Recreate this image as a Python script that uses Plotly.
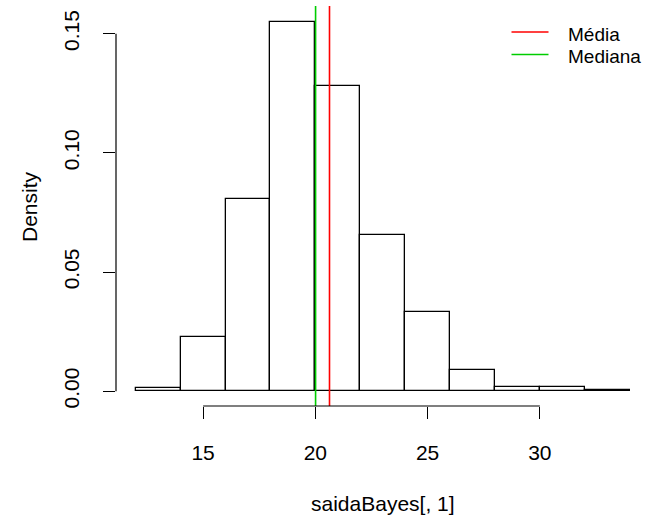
import plotly.graph_objects as go

# ---- data ----
bin_left = [12, 14, 16, 18, 20, 22, 24, 26, 28, 30, 32]
bin_width = 2
density = [0.0014, 0.0226, 0.0807, 0.1550, 0.1280, 0.0657, 0.0331, 0.0087, 0.0017, 0.0017, 0.0004]
mean_val = 20.63
median_val = 20.01
x_ticks = [15, 20, 25, 30]
y_ticks = [0.00, 0.05, 0.10, 0.15]
y_tick_text = ["0.00", "0.05", "0.10", "0.15"]
legend_labels = ["Média", "Mediana"]
legend_colors = ["#FF0000", "#00CD00"]

# ---- layout geometry ----
W, H = 645, 519
ML, MR, MT, MB = 116, 0, 6, 113
PW, PH = W - ML - MR, H - MT - MB
FONT = "Liberation Sans, Arial, Helvetica, sans-serif"

x_range = [11.12, 11.12 + PW / 22.45]
y_range = [-0.0062, 0.1616]


def px_to_paper(px, py):
    return (px - ML) / PW, (H - MB - py) / PH


centers = [b + bin_width / 2 for b in bin_left]

fig = go.Figure()
fig.add_trace(go.Bar(
    x=centers, y=density, width=bin_width,
    marker=dict(color="white", line=dict(color="black", width=1.3)),
    showlegend=False, hoverinfo="skip",
))
for val, col in [(mean_val, legend_colors[0]), (median_val, legend_colors[1])]:
    fig.add_trace(go.Scatter(
        x=[val, val], y=y_range, mode="lines",
        line=dict(color=col, width=1.6), showlegend=False, cliponaxis=True,
    ))

# R-style axis lines spanning only the ticks
fig.add_shape(type="line", xref="x", yref="paper", x0=min(x_ticks), x1=max(x_ticks),
              y0=0, y1=0, line=dict(color="black", width=1.2))
fig.add_shape(type="line", xref="paper", yref="y", x0=0, x1=0,
              y0=min(y_ticks), y1=max(y_ticks), line=dict(color="black", width=1.2))

# axis titles
ax, ay = px_to_paper(383, 503)
fig.add_annotation(text="saidaBayes[, 1]", xref="paper", yref="paper", x=ax, y=ay,
                   showarrow=False, xanchor="center", yanchor="middle",
                   font=dict(family=FONT, size=21, color="black"))
ax, ay = px_to_paper(30, 207)
fig.add_annotation(text="Density", xref="paper", yref="paper", x=ax, y=ay, textangle=-90,
                   showarrow=False, xanchor="center", yanchor="middle",
                   font=dict(family=FONT, size=21, color="black"))

# legend (R style, no box)
leg_rows = [32, 54.5]
for lab, col, ry in zip(legend_labels, legend_colors, leg_rows):
    x0, yy = px_to_paper(511.5, ry)
    x1, _ = px_to_paper(548.5, ry)
    fig.add_shape(type="line", xref="paper", yref="paper", x0=x0, x1=x1, y0=yy, y1=yy,
                  line=dict(color=col, width=1.6))
    tx, ty = px_to_paper(566, ry + 2.5)
    fig.add_annotation(text=lab, xref="paper", yref="paper", x=tx, y=ty,
                       showarrow=False, xanchor="left", yanchor="middle",
                       font=dict(family=FONT, size=19, color="black"))

axis_common = dict(showgrid=False, zeroline=False, showline=False, ticks="outside",
                   ticklen=12, tickwidth=1.2, tickcolor="black",
                   tickfont=dict(family=FONT, size=21, color="black"))
fig.update_xaxes(range=x_range, tickmode="array", tickvals=x_ticks,
                 ticktext=[str(t) for t in x_ticks], ticklabelstandoff=16, **axis_common)
fig.update_yaxes(range=y_range, tickmode="array", tickvals=y_ticks,
                 ticktext=y_tick_text, tickangle=-90, ticklabelstandoff=16, **axis_common)

fig.update_layout(width=W, height=H, margin=dict(l=ML, r=MR, t=MT, b=MB, pad=0),
                  plot_bgcolor="white", paper_bgcolor="white", bargap=0,
                  showlegend=False, font=dict(family=FONT, color="black"))

fig.write_html("out.html")
